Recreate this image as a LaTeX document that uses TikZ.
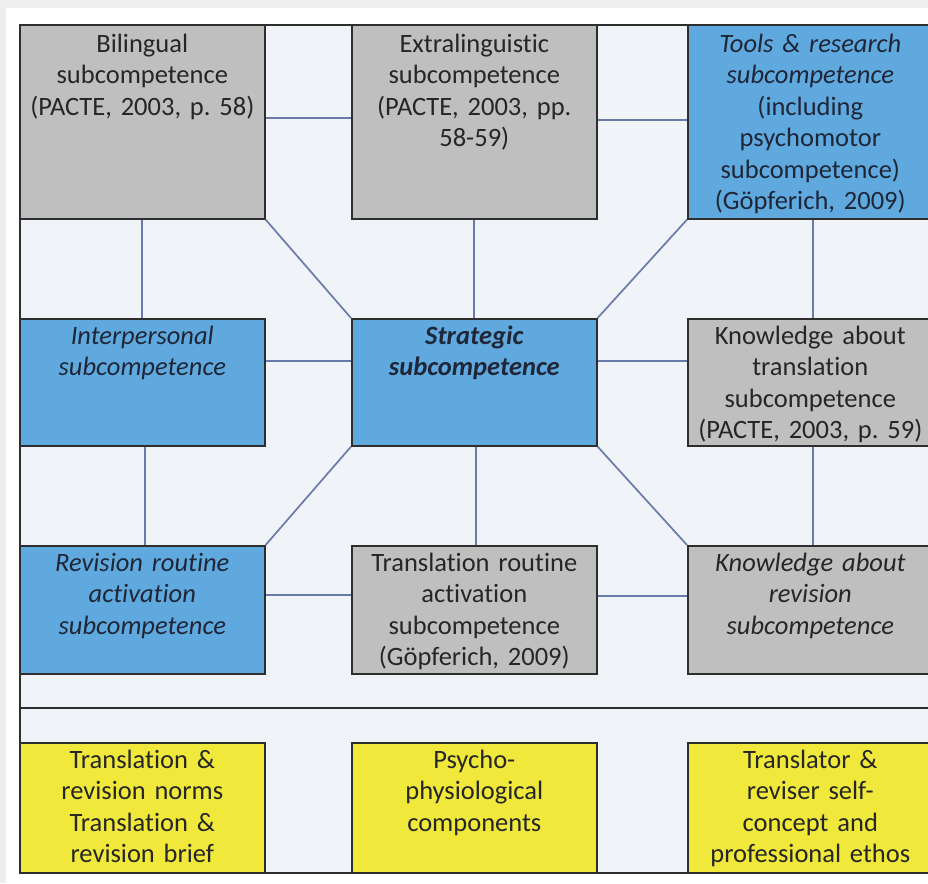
\documentclass[tikz,border=0pt]{standalone}
\usepackage{fontspec}
\setmainfont{Carlito}[Ligatures=NoCommon]
\usetikzlibrary{calc}

\definecolor{pagegray}{HTML}{EEEEEE}
\definecolor{panelfill}{HTML}{F0F3F8}
\definecolor{frameline}{HTML}{2E2E2E}
\definecolor{linkline}{HTML}{6A7AAA}
\definecolor{boxgray}{HTML}{BFBFBF}
\definecolor{boxblue}{HTML}{60A9DE}
\definecolor{boxyellow}{HTML}{F0E93C}
\definecolor{inktext}{HTML}{262626}
\definecolor{inkblue}{HTML}{1E2638}

\tikzset{
  cell/.style={draw=frameline, line width=1.6pt, inner sep=0pt,
    minimum width=245pt, minimum height=#1, anchor=north west},
  graycell/.style={cell=#1, fill=boxgray},
  bluecell/.style={cell=#1, fill=boxblue},
  yellowcell/.style={cell=#1, fill=boxyellow},
  label/.style={anchor=north, inner sep=0pt, text width=240pt, align=center,
    text=inktext, font=\fontsize{26.5}{31.5}\selectfont},
  bluelabel/.style={label, text=inkblue},
  link/.style={draw=linkline, line width=1.7pt},
}

\begin{document}
\begin{tikzpicture}[x=1pt, y=-1pt]
  \useasboundingbox (0,0) rectangle (928,883);
  \clip (0,0) rectangle (928,883);

  % page and panel background
  \fill[pagegray] (0,0) rectangle (928,883);
  \fill[white] (6,8) rectangle (928,883);
  \node[draw=frameline, fill=panelfill, line width=1.6pt, inner sep=0pt,
        minimum width=930pt, minimum height=848pt, anchor=north west]
        (panel) at (19,24) {};

  % divider above the bottom row
  \coordinate (divL) at (19,708);
  \coordinate (divR) at (950,708);
  \draw[draw=frameline, line width=1.6pt] (divL) -- (divR);

  % first row
  \node[graycell=194pt] (bil)   at (19,24)  {};
  \node[graycell=194pt] (ext)   at (351,24) {};
  \node[bluecell=194pt] (tools) at (687,24) {};
  % second row
  \node[bluecell=127pt] (inter) at (19,318)  {};
  \node[bluecell=127pt] (strat) at (351,318) {};
  \node[graycell=127pt] (kt)    at (687,318) {};
  % third row
  \node[bluecell=128pt] (rev)   at (19,545)  {};
  \node[graycell=128pt] (tr)    at (351,545) {};
  \node[graycell=128pt] (kr)    at (687,545) {};
  % bottom row
  \node[yellowcell=130pt] (norms)  at (19,742)  {};
  \node[yellowcell=130pt] (psycho) at (351,742) {};
  \node[yellowcell=130pt] (ethos)  at (687,742) {};

  % connectors
  \draw[link] ([yshift=4pt]bil.east) -- ([yshift=4pt]ext.west);
  \draw[link] ([yshift=2pt]ext.east) -- ([yshift=2pt]tools.west);
  \draw[link] (bil.south) -- (inter.north);
  \draw[link] (bil.south east) -- (strat.north west);
  \draw[link] (ext.south) -- (strat.north);
  \draw[link] (tools.south west) -- (strat.north east);
  \draw[link] ([xshift=3pt]tools.south) -- ([xshift=3pt]kt.north);
  \draw[link] ([yshift=21.5pt]inter.east) -- ([yshift=21.5pt]strat.west);
  \draw[link] ([yshift=21.5pt]strat.east) -- ([yshift=21.5pt]kt.west);
  \draw[link] ([xshift=3pt]inter.south) -- ([xshift=3pt]rev.north);
  \draw[link] (strat.south west) -- (rev.north east);
  \draw[link] ([xshift=2pt]strat.south) -- ([xshift=2pt]tr.north);
  \draw[link] (strat.south east) -- (kr.north west);
  \draw[link] ([xshift=3pt]kt.south) -- ([xshift=3pt]kr.north);
  \draw[link] ([yshift=15pt]rev.east) -- ([yshift=15pt]tr.west);
  \draw[link] ([yshift=14pt]tr.east) -- ([yshift=14pt]kr.west);

  % texts
  \node[label] (bilT) at ([yshift=-6pt]bil.north)
    {\strut Bilingual\\subcompetence\\(PACTE, 2003, p.~58)};
  \node[label] (extT) at ([yshift=-6pt]ext.north)
    {\strut Extralinguistic\\subcompetence\\(PACTE, 2003, pp.\\58-59)};
  \node[bluelabel] (toolsT) at ([yshift=-6pt]tools.north)
    {\strut\itshape Tools \& research\\subcompetence\\\upshape(including\\psychomotor\\subcompetence)\\(Göpferich, 2009)};
  \node[bluelabel] (interT) at ([yshift=-4pt]inter.north)
    {\strut\itshape Interpersonal\\subcompetence};
  \node[bluelabel] (stratT) at ([yshift=-4pt]strat.north)
    {\strut\bfseries\itshape Strategic\\subcompetence};
  \node[label] (ktT) at ([yshift=-4pt]kt.north)
    {\strut Knowledge about\\translation\\subcompetence\\(PACTE, 2003, p.~59)};
  \node[bluelabel] (revT) at ([yshift=-4pt]rev.north)
    {\strut\itshape Revision routine\\activation\\subcompetence};
  \node[label] (trT) at ([yshift=-4pt]tr.north)
    {\strut Translation routine\\activation\\subcompetence\\(Göpferich, 2009)};
  \node[label] (krT) at ([yshift=-4pt]kr.north)
    {\strut\itshape Knowledge about\\revision\\subcompetence};
  \node[label] (normsT) at ([yshift=-4pt]norms.north)
    {\strut Translation \&\\revision norms\\Translation \&\\revision brief};
  \node[label] (psychoT) at ([yshift=-4pt]psycho.north)
    {\strut Psycho-\\physiological\\components};
  \node[label] (ethosT) at ([yshift=-4pt]ethos.north)
    {\strut Translator \&\\reviser self-\\concept and\\professional ethos};
\end{tikzpicture}
\end{document}
